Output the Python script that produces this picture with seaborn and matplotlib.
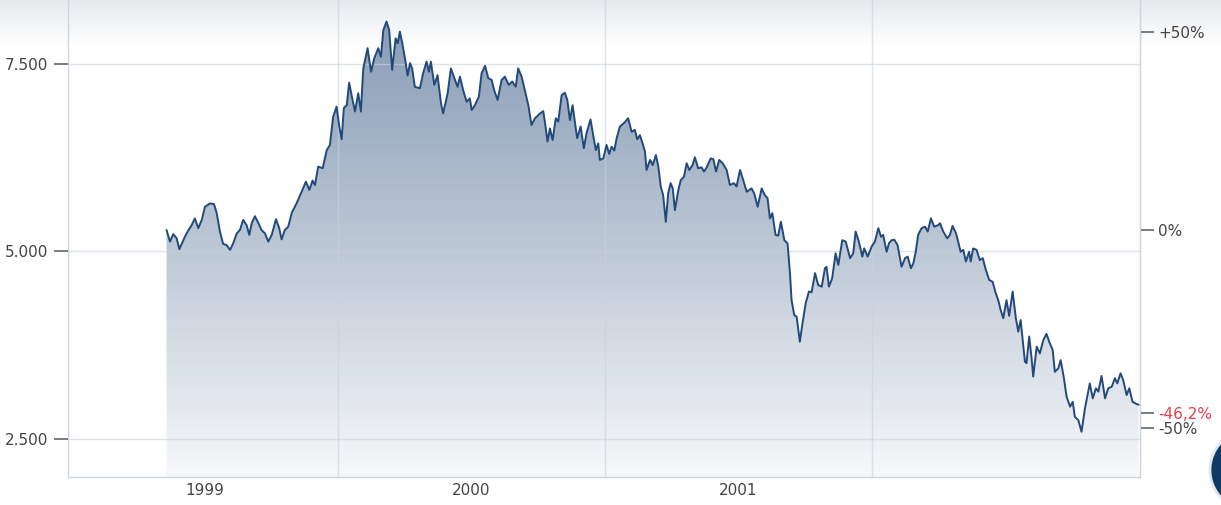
import numpy as np
import pandas as pd
import seaborn as sns
import matplotlib.pyplot as plt
from matplotlib.colors import LinearSegmentedColormap
from matplotlib.patches import Circle
from matplotlib.ticker import NullFormatter

# index closes, time as decimal year
t_1999 = [1999.358, 1999.371, 1999.383, 1999.396, 1999.406, 1999.421, 1999.433, 1999.452, 1999.464, 1999.477,
          1999.490, 1999.502, 1999.521, 1999.536, 1999.546, 1999.558, 1999.570, 1999.583, 1999.596, 1999.608,
          1999.621, 1999.633, 1999.645, 1999.658, 1999.668, 1999.677, 1999.689, 1999.701, 1999.714, 1999.727,
          1999.739, 1999.752, 1999.768, 1999.780, 1999.789, 1999.801, 1999.814, 1999.827, 1999.845, 1999.864,
          1999.880, 1999.893, 1999.905, 1999.914, 1999.926, 1999.943, 1999.958, 1999.970, 1999.982, 1999.995]
close_1999 = [5280, 5125, 5225, 5170, 5025, 5145, 5235, 5345, 5435, 5305,
              5415, 5590, 5635, 5625, 5505, 5260, 5095, 5080, 5015, 5105,
              5235, 5280, 5415, 5345, 5215, 5370, 5465, 5380, 5280, 5235,
              5125, 5215, 5425, 5305, 5155, 5280, 5325, 5510, 5635, 5790,
              5925, 5815, 5940, 5880, 6125, 6105, 6345, 6415, 6790, 6925]

t_2000 = [2000.005, 2000.014, 2000.022, 2000.033, 2000.042, 2000.051, 2000.064, 2000.076, 2000.086, 2000.095,
          2000.111, 2000.124, 2000.136, 2000.151, 2000.161, 2000.170, 2000.182, 2000.192, 2000.203, 2000.216,
          2000.224, 2000.232, 2000.241, 2000.251, 2000.261, 2000.270, 2000.278, 2000.288, 2000.307, 2000.319,
          2000.332, 2000.341, 2000.348, 2000.361, 2000.373, 2000.386, 2000.394, 2000.411, 2000.423, 2000.436,
          2000.448, 2000.457, 2000.469, 2000.482, 2000.494, 2000.501, 2000.513, 2000.528, 2000.538, 2000.551,
          2000.563, 2000.576, 2000.585, 2000.598, 2000.613, 2000.625, 2000.640, 2000.653, 2000.666, 2000.675,
          2000.688, 2000.700, 2000.713, 2000.725, 2000.738, 2000.757, 2000.769, 2000.775, 2000.785, 2000.794,
          2000.804, 2000.816, 2000.825, 2000.838, 2000.850, 2000.859, 2000.869, 2000.879, 2000.888, 2000.896,
          2000.909, 2000.921, 2000.931, 2000.946, 2000.956, 2000.966, 2000.975, 2000.981, 2000.994]
close_2000 = [6660, 6490, 6905, 6945, 7245, 7080, 6860, 7105, 6860, 7435,
              7705, 7390, 7570, 7705, 7590, 7945, 8060, 7945, 7415, 7835,
              7770, 7925, 7770, 7570, 7340, 7505, 7435, 7190, 7170, 7370,
              7525, 7390, 7525, 7215, 7345, 6970, 6835, 7105, 7435, 7305,
              7190, 7325, 7145, 6990, 7035, 6880, 6945, 7060, 7370, 7470,
              7305, 7280, 7145, 7015, 7280, 7325, 7215, 7260, 7190, 7435,
              7325, 7145, 6945, 6680, 6770, 6835, 6865, 6725, 6460, 6635,
              6480, 6770, 6725, 7080, 7110, 7015, 6745, 6945, 6705, 6505,
              6660, 6370, 6570, 6755, 6545, 6345, 6435, 6215, 6235]

t_2001 = [2001.006, 2001.016, 2001.025, 2001.035, 2001.044, 2001.056, 2001.071, 2001.087, 2001.100, 2001.112,
          2001.121, 2001.131, 2001.141, 2001.150, 2001.156, 2001.169, 2001.179, 2001.191, 2001.200, 2001.209,
          2001.218, 2001.228, 2001.237, 2001.246, 2001.254, 2001.262, 2001.275, 2001.284, 2001.296, 2001.306,
          2001.316, 2001.328, 2001.337, 2001.349, 2001.362, 2001.371, 2001.381, 2001.396, 2001.406, 2001.416,
          2001.428, 2001.441, 2001.456, 2001.468, 2001.483, 2001.493, 2001.506, 2001.518, 2001.531, 2001.549,
          2001.559, 2001.572, 2001.587, 2001.599, 2001.609, 2001.618, 2001.627, 2001.639, 2001.649, 2001.659,
          2001.672, 2001.684, 2001.693, 2001.699, 2001.709, 2001.718, 2001.730, 2001.739, 2001.752, 2001.764,
          2001.774, 2001.787, 2001.799, 2001.812, 2001.824, 2001.830, 2001.839, 2001.851, 2001.864, 2001.874,
          2001.889, 2001.902, 2001.918, 2001.930, 2001.939, 2001.951, 2001.964, 2001.971, 2001.984, 2001.999]
close_2001 = [6415, 6295, 6390, 6340, 6505, 6660, 6705, 6770, 6590, 6615,
              6490, 6545, 6435, 6325, 6080, 6215, 6145, 6280, 6125, 5860,
              5745, 5390, 5770, 5905, 5835, 5545, 5815, 5945, 5990, 6170,
              6080, 6145, 6250, 6105, 6115, 6060, 6115, 6235, 6225, 6060,
              6215, 6170, 6080, 5880, 5905, 5860, 6080, 5945, 5790, 5835,
              5770, 5590, 5835, 5745, 5705, 5435, 5505, 5215, 5205, 5390,
              5145, 5100, 4705, 4345, 4145, 4125, 3790, 4015, 4305, 4460,
              4450, 4705, 4545, 4525, 4770, 4790, 4525, 4635, 4970, 4815,
              5145, 5125, 4905, 4970, 5260, 5125, 4925, 5035, 4925, 5060]

t_2002 = [2002.011, 2002.024, 2002.034, 2002.042, 2002.055, 2002.064, 2002.074, 2002.084, 2002.096, 2002.111,
          2002.124, 2002.134, 2002.146, 2002.155, 2002.164, 2002.173, 2002.186, 2002.199, 2002.209, 2002.221,
          2002.233, 2002.248, 2002.255, 2002.267, 2002.282, 2002.292, 2002.302, 2002.315, 2002.323, 2002.332,
          2002.342, 2002.352, 2002.364, 2002.370, 2002.379, 2002.392, 2002.404, 2002.415, 2002.427, 2002.439,
          2002.452, 2002.464, 2002.473, 2002.482, 2002.492, 2002.504, 2002.514, 2002.527, 2002.539, 2002.548,
          2002.557, 2002.567, 2002.573, 2002.579, 2002.589, 2002.598, 2002.604, 2002.617, 2002.629, 2002.642,
          2002.654, 2002.664, 2002.677, 2002.685, 2002.698, 2002.707, 2002.719, 2002.729, 2002.742, 2002.752,
          2002.760, 2002.773, 2002.785, 2002.798, 2002.810, 2002.816, 2002.827, 2002.839, 2002.848, 2002.860,
          2002.873, 2002.885, 2002.898, 2002.910, 2002.919, 2002.931, 2002.941, 2002.954, 2002.964, 2002.976,
          2002.991, 2002.999]
close_2002 = [5125, 5305, 5190, 5215, 4990, 5105, 5145, 5150, 5080, 4790,
              4905, 4925, 4770, 4835, 4990, 5215, 5305, 5325, 5260, 5435,
              5325, 5345, 5370, 5260, 5170, 5215, 5335, 5235, 5125, 4990,
              5015, 4860, 4990, 4860, 5035, 5015, 4880, 4905, 4745, 4615,
              4590, 4435, 4345, 4215, 4105, 4345, 4135, 4460, 4105, 3925,
              4080, 3725, 3525, 3505, 3860, 3570, 3325, 3725, 3635, 3815,
              3895, 3790, 3680, 3390, 3435, 3545, 3305, 3060, 2925, 2990,
              2790, 2745, 2590, 2905, 3125, 3235, 3035, 3170, 3125, 3335,
              3035, 3170, 3190, 3305, 3235, 3370, 3280, 3080, 3170, 2990,
              2960, 2950]

left_ticks = [2500, 5000, 7500]
left_labels = ['2.500', '5.000', '7.500']
right_pcts = [0.5, 0.0, -0.5]
right_labels = ['+50%', '0%', '-50%']
last_change = -0.462
last_label = '-46,2%'
year_lines = [2000, 2001, 2002]
year_label_pos = [1999.5, 2000.5, 2001.5]
year_labels = ['1999', '2000', '2001']

df = pd.DataFrame({
    't': t_1999 + t_2000 + t_2001 + t_2002,
    'close': close_1999 + close_2000 + close_2001 + close_2002,
})
base = df['close'].iloc[0]

sns.set_style('white')
plt.rcParams['font.family'] = ['DejaVu Sans']

W, H = 1221, 505
fig = plt.figure(figsize=(W / 100, H / 100), dpi=100)

# page background: faint grey band fading out at the top, plus the round button
bg = fig.add_axes([0, 0, 1, 1])
bg.set_axis_off()
shade = np.clip(np.arange(H) / 45, 0, 1).reshape(-1, 1)
bg.imshow(shade, cmap=LinearSegmentedColormap.from_list('hdr', ['#e7e9ed', '#ffffff']),
          aspect='auto', extent=[0, W, H, 0])
bg.add_patch(Circle((1250, 470), 40, facecolor='#0f3a63', edgecolor='#dfe6ee', lw=2))
bg.set_xlim(0, W)
bg.set_ylim(H, 0)

x0, x1 = 68, 1140
ax = fig.add_axes([x0 / W, 28 / H, (x1 - x0) / W, 477 / H])
ax.patch.set_visible(False)

xmin, xmax = 1998.989, 2003.004
ymin, ymax = 1987, 8347

poly = ax.fill_between(df['t'], df['close'], ymin, facecolor='none', edgecolor='none')
fill_cmap = LinearSegmentedColormap.from_list('fill', ['#f7f8fa', '#bac6d4', '#8499b3'])
img = ax.imshow(np.linspace(0, 1, 256).reshape(-1, 1), cmap=fill_cmap, origin='lower',
                aspect='auto', extent=[xmin, xmax, ymin, ymax], zorder=1)
img.set_clip_path(poly.get_paths()[0], transform=ax.transData)

sns.lineplot(data=df, x='t', y='close', color='#22497a', lw=1.4, ax=ax, zorder=3)

ax.set_xlim(xmin, xmax)
ax.set_ylim(ymin, ymax)
ax.set_xlabel('')
ax.set_ylabel('')

ax.set_xticks(year_lines)
ax.xaxis.set_major_formatter(NullFormatter())
ax.set_xticks(year_label_pos, minor=True)
ax.set_xticklabels(year_labels, minor=True)
ax.tick_params(axis='x', which='both', length=0)
ax.tick_params(axis='x', which='minor', labelsize=11, labelcolor='#444444', pad=4)

ax.set_yticks(left_ticks, labels=left_labels)
ax.tick_params(axis='y', length=10, width=1.2, color='#666666', labelcolor='#444444',
               labelsize=11, pad=4)

ax.set_axisbelow(False)
ax.grid(True, which='major', color='#c8d2dc', alpha=0.6, lw=1)

for side in ['left', 'bottom', 'right']:
    ax.spines[side].set_color('#cdd6e0')
    ax.spines[side].set_linewidth(1)
ax.spines['top'].set_visible(False)

ax2 = ax.twinx()
ax2.set_ylim(ymin, ymax)
ax2.set_yticks([base * (1 + p) for p in right_pcts] + [base * (1 + last_change)],
               labels=right_labels + [last_label])
ax2.tick_params(axis='y', length=10, width=1.2, color='#666666', labelcolor='#444444',
                labelsize=11, pad=3)
ax2.get_yticklabels()[-1].set_color('#e5404d')
for side in ['left', 'bottom', 'top']:
    ax2.spines[side].set_visible(False)
ax2.spines['right'].set_color('#cdd6e0')
ax2.grid(False)

fig.savefig('out.png', dpi=100)
